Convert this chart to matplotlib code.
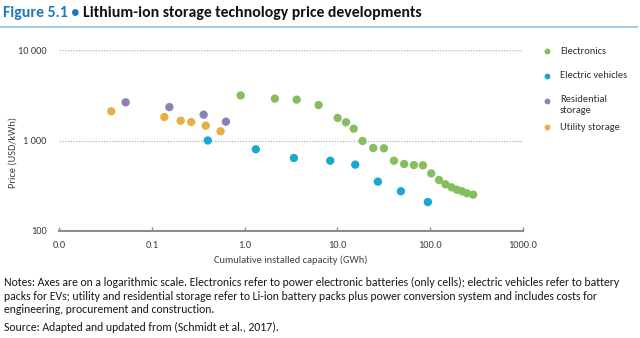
import matplotlib
matplotlib.use("Agg")
import matplotlib.pyplot as plt
from matplotlib.lines import Line2D
from matplotlib.ticker import FixedLocator, FixedFormatter, NullLocator

plt.rcParams['font.family'] = ['Carlito', 'DejaVu Sans']

# Cumulative installed capacity (GWh) and price (USD/kWh)
electronics_x = [0.906, 2.12, 3.64, 6.28, 10.07, 12.4, 15.0, 18.7, 24.4, 31.8, 40.8,
                 52.7, 67.0, 83.8, 103, 125, 147, 171, 195, 221, 250, 292]
electronics_y = [3150, 2900, 2830, 2466, 1775, 1590, 1350, 987, 826, 820, 598,
                 550, 535, 532, 433, 366, 328, 304, 286, 275, 261, 252]

ev_x = [0.40, 1.32, 3.4, 8.38, 15.6, 27.4, 48.5, 94.8]
ev_y = [1000, 800, 641, 598, 541, 351, 275, 209]

residential_x = [0.052, 0.154, 0.361, 0.628]
residential_y = [2640, 2340, 1930, 1615]

utility_x = [0.0364, 0.136, 0.204, 0.265, 0.38, 0.55]
utility_y = [2100, 1820, 1655, 1600, 1460, 1265]

series_names = ["Electronics", "Electric vehicles", "Residential\nstorage", "Utility storage"]
series_colors = ["#86BE5E", "#19A8CF", "#8A82B2", "#E5B145"]

x_ticks = [0.01, 0.1, 1, 10, 100, 1000]
x_tick_labels = ["0.0", "0.1", "1.0", "10.0", "100.0", "1000.0"]
y_ticks = [100, 1000, 10000]
y_tick_labels = ["100", "1 000", "10 000"]

W, H = 640, 338
FS = 7.5
fig = plt.figure(figsize=(W / 100, H / 100), dpi=100)
ax = fig.add_axes([59.3 / W, 1 - 231 / H, (522.7 - 59.3) / W, (231 - 50) / H])
ax.set_xscale("log")
ax.set_yscale("log")
ax.set_xlim(0.01, 1000)
ax.set_ylim(100, 10000)

series = [(electronics_x, electronics_y), (ev_x, ev_y),
          (residential_x, residential_y), (utility_x, utility_y)]
for (xs, ys), color in zip(series, series_colors):
    ax.scatter(xs, ys, s=36, color=color, edgecolors="none", zorder=3)

# Dotted grid at 1 000 and 10 000 only
for yv in y_ticks[1:]:
    ax.axhline(yv, color="#BDBDBD", linestyle=(0, (1, 1)), linewidth=1.0, zorder=1)

for side in ["top", "right", "left"]:
    ax.spines[side].set_visible(False)
ax.spines["bottom"].set_color("#8C8C8C")
ax.spines["bottom"].set_linewidth(1.5)

ax.xaxis.set_major_locator(FixedLocator(x_ticks))
ax.xaxis.set_major_formatter(FixedFormatter(x_tick_labels))
ax.xaxis.set_minor_locator(NullLocator())
ax.yaxis.set_major_locator(FixedLocator(y_ticks))
ax.yaxis.set_major_formatter(FixedFormatter(y_tick_labels))
ax.yaxis.set_minor_locator(NullLocator())
ax.tick_params(axis="x", direction="in", length=3, width=1, color="#8C8C8C",
               labelsize=FS, labelcolor="#404040", pad=7)
ax.tick_params(axis="y", length=0, labelsize=FS, labelcolor="#404040", pad=9)

ax.set_xlabel("Cumulative installed capacity (GWh)", fontsize=FS, color="#404040", labelpad=4)
fig.text(13 / W, 1 - 153 / H, "Price (USD/kWh)", rotation=90, fontsize=FS,
         color="#404040", ha="center", va="center")

# Legend column on the right
legend_rows = [51, 76, 101, 127]
for name, color, yr in zip(series_names, series_colors, legend_rows):
    fig.add_artist(Line2D([547 / W], [1 - yr / H], marker="o", markersize=4.2,
                          color=color, markeredgewidth=0, linestyle="none",
                          transform=fig.transFigure))
    if "\n" in name:
        fig.text(560 / W, 1 - (yr - 6) / H, name, fontsize=FS, color="#303030",
                 ha="left", va="top", linespacing=1.35)
    else:
        fig.text(560 / W, 1 - yr / H, name, fontsize=FS, color="#303030",
                 ha="left", va="center")

# Title with blue figure number
t1 = fig.text(3 / W, 1 - 13 / H, "Figure 5.1 \u2022 ", fontsize=11.3, fontweight="bold",
              color="#1F77BE", va="center", ha="left")
fig.canvas.draw()
bb = t1.get_window_extent()
fig.text(bb.x1 / W, 1 - 13 / H, "Lithium-ion storage technology price developments",
         fontsize=11.3, fontweight="bold", color="#111111", va="center", ha="left")
fig.add_artist(Line2D([0.0, 0.995], [1 - 27 / H, 1 - 27 / H], color="#A9CBE6",
                      linewidth=1.5, transform=fig.transFigure))

notes = ("Notes: Axes are on a logarithmic scale. Electronics refer to power electronic batteries (only cells); "
         "electric vehicles refer to battery\n"
         "packs for EVs; utility and residential storage refer to Li-ion battery packs plus power conversion "
         "system and includes costs for\n"
         "engineering, procurement and construction.")
fig.text(4 / W, 1 - 296 / H, notes, fontsize=8.5, color="#1A1A1A", va="center", ha="left",
         linespacing=1.3)
fig.text(4 / W, 1 - 327 / H, "Source: Adapted and updated from (Schmidt et al., 2017).",
         fontsize=8.5, color="#1A1A1A", va="center", ha="left")

fig.savefig("out.png", dpi=100)
